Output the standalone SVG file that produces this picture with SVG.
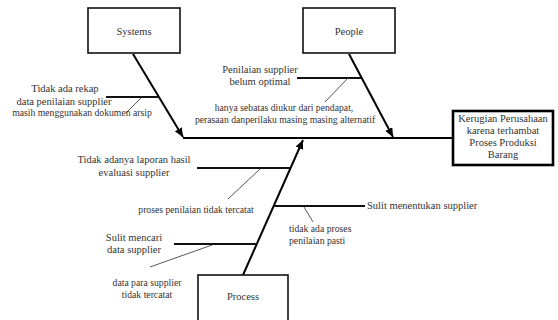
<svg xmlns="http://www.w3.org/2000/svg" width="558" height="320" viewBox="0 0 558 320" font-family="'Liberation Serif', 'Times New Roman', serif">
<style>
text{font-family:'Liberation Serif','Times New Roman',serif;fill:#333;text-anchor:middle}
.m{font-size:10.5px}
.s{font-size:9.7px}
.box{fill:#fff;stroke:#111;stroke-width:1.6}
.eff{fill:#fff;stroke:#000;stroke-width:2.6}
.arr{stroke:#000;stroke-width:2;fill:none}
.br{stroke:#111;stroke-width:1.8;fill:none}
.sub{stroke:#444;stroke-width:0.9;fill:none}
</style>
<defs>
<marker id="ah" markerUnits="userSpaceOnUse" markerWidth="10" markerHeight="8" refX="9" refY="4" orient="auto">
<path d="M0,0 L9,4 L0,8 Z" fill="#000"/>
</marker>
</defs>
<g id="connectors">
<line class="arr" x1="183" y1="138" x2="453" y2="138"/>
<line class="arr" x1="133" y1="54" x2="183" y2="137" marker-end="url(#ah)"/>
<line class="arr" x1="349" y1="54" x2="393" y2="137" marker-end="url(#ah)"/>
<line class="arr" x1="243" y1="275" x2="303" y2="140" marker-end="url(#ah)"/>
<line class="br" x1="106" y1="97" x2="158" y2="97"/>
<line class="sub" x1="126" y1="113" x2="141" y2="98"/>
<line class="br" x1="297" y1="78" x2="361" y2="78"/>
<line class="sub" x1="325" y1="102" x2="348" y2="78"/>
<line class="br" x1="197" y1="168" x2="290" y2="168"/>
<line class="sub" x1="228" y1="199" x2="260" y2="169"/>
<line class="br" x1="174" y1="244" x2="257" y2="244"/>
<line class="sub" x1="150" y1="267" x2="212" y2="245"/>
<line class="br" x1="274" y1="206" x2="365" y2="206"/>
<line class="sub" x1="304" y1="207" x2="313" y2="222"/>
</g>
<g id="systems">
<rect class="box" x="88" y="8" width="92" height="45"/>
<text class="m" x="134" y="35">Systems</text>
</g>
<g id="people">
<rect class="box" x="303" y="8" width="92" height="45"/>
<text class="m" x="349" y="35">People</text>
</g>
<g id="process">
<rect class="box" x="198" y="275" width="90" height="50"/>
<text class="m" x="243" y="300">Process</text>
</g>
<g id="effect">
<rect class="eff" x="453" y="111" width="100" height="54"/>
<text class="m" x="503" y="122">Kerugian Perusahaan</text>
<text class="m" x="503" y="134">karena terhambat</text>
<text class="m" x="503" y="146">Proses Produksi</text>
<text class="m" x="503" y="158">Barang</text>
</g>
<g id="systems-causes">
<text class="m" x="65" y="92">Tidak ada rekap</text>
<text class="m" x="64" y="105">data penilaian supplier</text>
<text class="s" x="82" y="116">masih menggunakan dokumen arsip</text>
</g>
<g id="people-causes">
<text class="m" x="260" y="73">Penilaian supplier</text>
<text class="m" x="260" y="85">belum optimal</text>
<text class="s" x="284" y="111">hanya sebatas diukur dari pendapat,</text>
<text class="s" x="285" y="123">perasaan danperilaku masing masing alternatif</text>
</g>
<g id="process-causes">
<text class="m" x="134" y="163">Tidak adanya laporan hasil</text>
<text class="m" x="134" y="176">evaluasi supplier</text>
<text class="s" x="196" y="213">proses penilaian tidak tercatat</text>
<text class="m" x="134" y="241">Sulit mencari</text>
<text class="m" x="134" y="253">data supplier</text>
<text class="s" x="147" y="286">data para supplier</text>
<text class="s" x="147" y="298">tidak tercatat</text>
<text class="m" x="367" y="209" style="text-anchor:start">Sulit menentukan supplier</text>
<text class="s" x="289" y="232" style="text-anchor:start">tidak ada proses</text>
<text class="s" x="289" y="244" style="text-anchor:start">penilaian pasti</text>
</g>
</svg>
